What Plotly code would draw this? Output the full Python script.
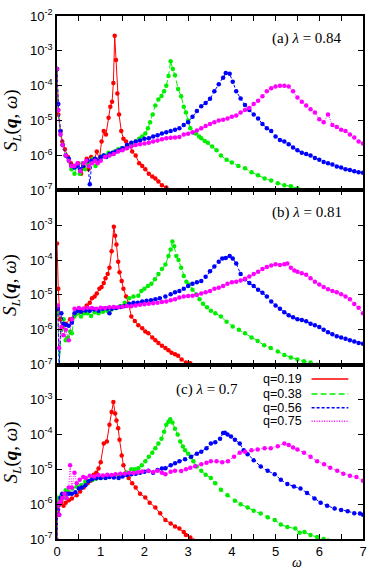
import plotly.graph_objects as go
from plotly.subplots import make_subplots

# ---- panel (a) lambda = 0.84 ----
w_a_019 = [0.0, 0.03, 0.08, 0.12, 0.18, 0.25, 0.32, 0.4, 0.48, 0.55, 0.62, 0.68, 0.72, 0.78, 0.85, 0.91,
           0.97, 1.02, 1.07, 1.12, 1.18, 1.22, 1.26, 1.29, 1.32, 1.35, 1.38, 1.42, 1.47, 1.52, 1.58, 1.65,
           1.72, 1.8, 1.88, 1.95, 2.02, 2.1, 2.18, 2.25, 2.32, 2.4, 2.5, 2.6, 2.7]
s_a_019 = [3e-4, 1.5e-5, 5e-6, 2.5e-6, 1.5e-6, 9e-7, 6e-7, 5e-7, 6e-7, 3e-7, 4.5e-7, 8e-7, 4e-7, 9e-7, 7e-7, 1.3e-6,
           8e-7, 2.5e-6, 5e-6, 4e-6, 1.2e-5, 2.5e-5, 3.5e-5, 1.2e-4, 2.7e-3, 5.5e-4, 6e-5, 1.5e-5, 5e-6, 3e-6, 2.5e-6, 2e-6,
           1.3e-6, 1e-6, 6e-7, 5e-7, 4e-7, 3e-7, 2.5e-7, 2.2e-7, 1.8e-7, 1.4e-7, 1.2e-7, 1e-7, 9e-8]

w_a_038 = [0.0, 0.03, 0.08, 0.13, 0.2, 0.27, 0.33, 0.4, 0.46, 0.52, 0.58, 0.64, 0.7, 0.76, 0.82, 0.88, 0.95,
           1.0, 1.06, 1.12, 1.18, 1.25, 1.32, 1.4, 1.48, 1.57, 1.65, 1.72, 1.8, 1.88, 1.95, 2.02, 2.08, 2.13,
           2.19, 2.25, 2.32, 2.39, 2.45, 2.5, 2.55, 2.6, 2.65, 2.7, 2.77, 2.84, 2.9, 2.95, 3.0, 3.05, 3.12,
           3.18, 3.25, 3.3, 3.38, 3.45, 3.55, 3.65, 3.75, 3.88, 4.0, 4.15, 4.3, 4.45, 4.6, 4.75, 4.9, 5.05,
           5.2, 5.35, 5.5, 5.65, 5.8]
s_a_038 = [3e-4, 2e-5, 4e-6, 2e-6, 1e-6, 7e-7, 4e-7, 3e-7, 5e-7, 3e-7, 6e-7, 4e-7, 6e-7, 6e-7, 8e-7, 5e-7, 7e-7,
           8e-7, 1e-6, 1e-6, 1.2e-6, 1.1e-6, 1.3e-6, 1.5e-6, 1.6e-6, 1.6e-6, 1.9e-6, 2e-6, 2.5e-6, 3e-6, 3.5e-6, 4.3e-6, 6e-6, 9e-6,
           1.5e-5, 2.7e-5, 4e-5, 5.1e-5, 7e-5, 1e-4, 1.9e-4, 5e-4, 3e-4, 2e-4, 8e-5, 5e-5, 2.5e-5, 1.7e-5, 1e-5, 6e-6, 4.5e-6,
           4.3e-6, 3.5e-6, 3.1e-6, 2.6e-6, 2.3e-6, 1.8e-6, 1.4e-6, 1e-6, 7.5e-7, 6.3e-7, 5e-7, 4.3e-7, 3.3e-7, 2.7e-7, 2.2e-7, 1.9e-7, 1.6e-7,
           1.4e-7, 1.3e-7, 1.15e-7, 1e-7, 9e-8]

w_a_056 = [0.0, 0.03, 0.08, 0.13, 0.2, 0.27, 0.33, 0.4, 0.47, 0.53, 0.6, 0.7, 0.75, 0.8, 0.87, 0.93, 1.0,
           1.07, 1.13, 1.2, 1.27, 1.35, 1.42, 1.5, 1.6, 1.7, 1.8, 1.9, 2.0, 2.1, 2.2, 2.3, 2.4, 2.5, 2.6,
           2.7, 2.8, 2.9, 3.0, 3.1, 3.2, 3.3, 3.4, 3.5, 3.6, 3.7, 3.8, 3.86, 3.95, 4.02, 4.1, 4.2, 4.3, 4.4,
           4.5, 4.6, 4.7, 4.8, 4.9, 5.0, 5.1, 5.2, 5.3, 5.4, 5.5, 5.6, 5.7, 5.8, 5.9, 6.0, 6.1, 6.2, 6.3,
           6.4, 6.5, 6.6, 6.7, 6.8, 6.9, 7.0]
s_a_056 = [3e-4, 3e-5, 5e-6, 2e-6, 1e-6, 8e-7, 5e-7, 4.5e-7, 5e-7, 4e-7, 5e-7, 7e-7, 1.5e-7, 7e-7, 8e-7, 7e-7, 9e-7,
           1e-6, 9e-7, 1.1e-6, 1.2e-6, 1.3e-6, 1.4e-6, 1.6e-6, 2e-6, 2.3e-6, 2.5e-6, 2.7e-6, 3e-6, 3.1e-6, 3.5e-6, 3.8e-6, 4.3e-6, 4.6e-6, 5e-6,
           5.5e-6, 6e-6, 7.5e-6, 9e-6, 1.3e-5, 1.9e-5, 2.6e-5, 3.2e-5, 4.2e-5, 7e-5, 1.1e-4, 1.7e-4, 2.3e-4, 2.2e-4, 1.3e-4, 7e-5, 4.3e-5, 2.8e-5, 2e-5,
           1.5e-5, 1.15e-5, 8e-6, 6e-6, 5e-6, 3.5e-6, 2.8e-6, 2.5e-6, 2.1e-6, 1.7e-6, 1.4e-6, 1.2e-6, 1.1e-6, 1e-6, 8.5e-7, 7.5e-7, 6.5e-7, 6e-7, 5.5e-7,
           4.8e-7, 4.5e-7, 4e-7, 3.8e-7, 3.5e-7, 3.3e-7, 3.2e-7]

w_a_075 = [0.0, 0.03, 0.08, 0.13, 0.2, 0.27, 0.33, 0.4, 0.47, 0.53, 0.6, 0.67, 0.73, 0.8, 0.87, 0.93, 1.0,
           1.1, 1.2, 1.3, 1.4, 1.5, 1.6, 1.7, 1.8, 1.9, 2.0, 2.1, 2.2, 2.3, 2.4, 2.5, 2.6, 2.7, 2.8, 2.9,
           3.0, 3.1, 3.2, 3.3, 3.4, 3.5, 3.6, 3.7, 3.8, 3.9, 4.0, 4.1, 4.2, 4.3, 4.4, 4.5, 4.6, 4.7, 4.8,
           4.9, 5.0, 5.1, 5.2, 5.3, 5.4, 5.5, 5.6, 5.7, 5.8, 5.9, 6.0, 6.1, 6.2, 6.3, 6.4, 6.5, 6.6, 6.7,
           6.8, 6.9, 7.0]
s_a_075 = [3e-4, 2e-5, 4e-6, 2e-6, 1e-6, 7e-7, 5e-7, 5e-7, 6e-7, 3.5e-7, 6e-7, 7e-7, 5e-7, 6e-7, 7e-7, 6e-7, 7e-7,
           9e-7, 1e-6, 1.1e-6, 1.3e-6, 1.4e-6, 1.6e-6, 1.8e-6, 2e-6, 2.1e-6, 2.2e-6, 2.3e-6, 2.5e-6, 2.7e-6, 2.9e-6, 3.1e-6, 3.2e-6, 3.3e-6, 3.4e-6, 4e-6,
           4.2e-6, 4.6e-6, 5.2e-6, 6e-6, 7e-6, 8e-6, 9e-6, 1e-5, 1.05e-5, 1.15e-5, 1.3e-5, 1.4e-5, 1.7e-5, 2e-5, 2.3e-5, 3e-5, 3.7e-5, 5e-5, 7e-5,
           8.5e-5, 9.5e-5, 1e-4, 1e-4, 9.5e-5, 7e-5, 4.6e-5, 3.5e-5, 2.7e-5, 2.1e-5, 1.7e-5, 1.1e-5, 9e-6, 1.5e-5, 7.5e-6, 6.5e-6, 5.5e-6, 5e-6, 4e-6,
           3.3e-6, 2.5e-6, 2.2e-6]

# ---- panel (b) lambda = 0.81 ----
w_b_019 = [0.0, 0.03, 0.07, 0.12, 0.2, 0.3, 0.39, 0.47, 0.55, 0.62, 0.68, 0.75, 0.8, 0.86, 0.91, 0.97, 1.02,
           1.07, 1.11, 1.16, 1.2, 1.25, 1.3, 1.33, 1.36, 1.4, 1.43, 1.48, 1.52, 1.58, 1.64, 1.7, 1.78, 1.86,
           1.95, 2.02, 2.09, 2.18, 2.25, 2.32, 2.4, 2.48, 2.55, 2.62, 2.7, 2.77, 2.85, 2.95, 3.05, 3.12]
s_b_019 = [3e-4, 1.5e-5, 2e-6, 1.2e-6, 1.5e-6, 2e-6, 2.4e-6, 3e-6, 3.4e-6, 4e-6, 5e-6, 6e-6, 8e-6, 9e-6, 1.1e-5, 1.5e-5, 1.7e-5,
           2.2e-5, 3e-5, 4e-5, 6e-5, 1.8e-4, 9e-4, 5e-4, 2.8e-4, 9e-5, 4.5e-5, 2.5e-5, 1.5e-5, 9e-6, 5.6e-6, 2.4e-6, 1.8e-6, 1.35e-6,
           1.1e-6, 9e-7, 8e-7, 6e-7, 5e-7, 4.2e-7, 3.5e-7, 3e-7, 2.6e-7, 2.2e-7, 2e-7, 1.8e-7, 1.4e-7, 1.15e-7, 1.1e-7, 9e-8]

w_b_038 = [0.02, 0.05, 0.1, 0.15, 0.2, 0.25, 0.3, 0.34, 0.4, 0.47, 0.55, 0.62, 0.7, 0.78, 0.86, 0.95, 1.05,
           1.15, 1.25, 1.35, 1.45, 1.55, 1.65, 1.75, 1.86, 1.93, 2.0, 2.08, 2.16, 2.24, 2.32, 2.4, 2.48, 2.55,
           2.6, 2.64, 2.68, 2.73, 2.78, 2.84, 2.9, 2.96, 3.02, 3.1, 3.18, 3.26, 3.34, 3.43, 3.52, 3.62, 3.75,
           3.88, 4.02, 4.16, 4.3, 4.45, 4.59, 4.74, 4.89, 5.05, 5.2, 5.35, 5.5, 5.65, 5.8, 5.95, 6.05]
s_b_038 = [3e-6, 9e-8, 1e-6, 2e-6, 5e-7, 6e-7, 9e-7, 8e-7, 2.5e-6, 3e-6, 2.4e-6, 3e-6, 3e-6, 2.5e-6, 3.2e-6, 3e-6, 3.3e-6,
           3.5e-6, 3.8e-6, 4.2e-6, 4.8e-6, 6e-6, 8e-6, 9e-6, 9.5e-6, 1.3e-5, 1.5e-5, 1.8e-5, 2.1e-5, 2.8e-5, 4e-5, 5.5e-5, 7.5e-5, 1.3e-4,
           2e-4, 3.4e-4, 2.5e-4, 1.3e-4, 1e-4, 6e-5, 3.5e-5, 2.4e-5, 2e-5, 1.4e-5, 1.05e-5, 7.5e-6, 5.6e-6, 4.4e-6, 3.5e-6, 3e-6, 2.4e-6,
           1.7e-6, 1.25e-6, 1e-6, 8e-7, 6e-7, 4.8e-7, 3.6e-7, 3e-7, 2.4e-7, 1.9e-7, 1.6e-7, 1.4e-7, 1.25e-7, 1.15e-7, 1e-7, 9e-8]

w_b_056 = [0.02, 0.05, 0.1, 0.15, 0.2, 0.27, 0.34, 0.4, 0.47, 0.55, 0.65, 0.75, 0.85, 0.95, 1.05, 1.15, 1.2,
           1.25, 1.35, 1.45, 1.55, 1.65, 1.75, 1.85, 1.95, 2.05, 2.15, 2.25, 2.35, 2.48, 2.6, 2.7, 2.8, 2.9,
           3.0, 3.1, 3.2, 3.3, 3.4, 3.5, 3.6, 3.7, 3.78, 3.86, 3.95, 4.02, 4.1, 4.2, 4.3, 4.4, 4.5, 4.6,
           4.7, 4.8, 4.9, 5.0, 5.1, 5.2, 5.3, 5.4, 5.5, 5.6, 5.7, 5.8, 5.9, 6.0, 6.1, 6.2, 6.3, 6.4, 6.5,
           6.6, 6.7, 6.8, 6.9, 7.0]
s_b_056 = [4e-6, 9e-8, 3e-6, 1.5e-6, 1.4e-6, 1.3e-6, 1.6e-6, 3e-6, 3.5e-6, 3.3e-6, 3.6e-6, 3.5e-6, 3.8e-6, 3.5e-6, 4e-6, 4.1e-6, 3e-6,
           4e-6, 4.2e-6, 4.5e-6, 4.8e-6, 5.5e-6, 6e-6, 6e-6, 6.5e-6, 6.8e-6, 7e-6, 7.5e-6, 8e-6, 9e-6, 1.05e-5, 1.2e-5, 1.3e-5, 1.5e-5,
           1.8e-5, 2.1e-5, 2.3e-5, 2.5e-5, 3.3e-5, 4.8e-5, 6.5e-5, 9e-5, 1.1e-4, 1.15e-4, 1.3e-4, 1.1e-4, 8e-5, 4e-5, 2.8e-5, 2.2e-5, 1.8e-5, 1.4e-5,
           1.15e-5, 9e-6, 6.5e-6, 5e-6, 4e-6, 3.2e-6, 2.6e-6, 2.3e-6, 2e-6, 1.9e-6, 1.75e-6, 1.5e-6, 1.35e-6, 1.2e-6, 1e-6, 8.5e-7, 7.5e-7, 6.5e-7, 6e-7,
           5.5e-7, 5e-7, 4.6e-7, 4.2e-7, 4e-7]

w_b_075 = [0.02, 0.05, 0.1, 0.15, 0.2, 0.27, 0.34, 0.4, 0.5, 0.6, 0.7, 0.8, 0.9, 1.0, 1.1, 1.2, 1.3,
           1.4, 1.5, 1.6, 1.7, 1.8, 1.9, 2.0, 2.1, 2.2, 2.3, 2.4, 2.5, 2.6, 2.7, 2.8, 2.9, 3.0, 3.1, 3.2,
           3.3, 3.4, 3.5, 3.6, 3.7, 3.8, 3.9, 4.0, 4.1, 4.2, 4.3, 4.4, 4.5, 4.6, 4.7, 4.8, 4.9, 5.0, 5.1,
           5.2, 5.27, 5.35, 5.43, 5.5, 5.6, 5.7, 5.8, 5.9, 6.0, 6.1, 6.2, 6.3, 6.4, 6.5, 6.6, 6.7, 6.8, 6.9,
           7.0]
s_b_075 = [5e-6, 3e-7, 1.2e-6, 7e-7, 1e-6, 5e-7, 2e-6, 4e-6, 4.2e-6, 4e-6, 4.3e-6, 4.2e-6, 4e-6, 4.3e-6, 4.2e-6, 4.4e-6, 4.5e-6,
           4.4e-6, 4.6e-6, 4.8e-6, 4.7e-6, 5e-6, 5.2e-6, 5.4e-6, 5.6e-6, 5.8e-6, 6e-6, 6.3e-6, 6.5e-6, 7e-6, 7.5e-6, 8.5e-6, 9e-6, 9.3e-6, 9.5e-6, 1e-5,
           1.1e-5, 1.2e-5, 1.3e-5, 1.5e-5, 1.6e-5, 1.8e-5, 2.1e-5, 2.3e-5, 2.4e-5, 2.6e-5, 2.9e-5, 3.4e-5, 4e-5, 4.6e-5, 5.5e-5, 6.3e-5, 7e-5, 7.6e-5, 7.2e-5,
           7.6e-5, 8e-5, 6e-5, 5e-5, 4.6e-5, 4.2e-5, 3.8e-5, 3e-5, 2.4e-5, 2e-5, 1.7e-5, 1.45e-5, 1.3e-5, 1.2e-5, 1.05e-5, 9e-6, 7.5e-6, 5.5e-6, 4.3e-6,
           3e-6]

# ---- panel (c) lambda = 0.7 ----
w_c_019 = [0.0, 0.01, 0.03, 0.06, 0.1, 0.15, 0.2, 0.27, 0.34, 0.45, 0.53, 0.61, 0.7, 0.77, 0.84, 0.9, 0.95,
           1.0, 1.07, 1.14, 1.2, 1.25, 1.29, 1.33, 1.36, 1.4, 1.43, 1.48, 1.52, 1.58, 1.64, 1.72, 1.8, 1.9,
           2.02, 2.12, 2.25, 2.36, 2.48, 2.6, 2.7, 2.8, 2.9, 2.95, 3.05, 3.12]
s_c_019 = [9e-8, 1.5e-6, 5e-7, 1e-6, 1.2e-6, 9e-7, 1.1e-6, 1.3e-6, 1.45e-6, 1.8e-6, 2.3e-6, 3e-6, 4e-6, 4.7e-6, 7e-6, 8e-6, 1.05e-5,
           1.6e-5, 5.5e-5, 6.3e-5, 1.9e-4, 4.4e-4, 8.5e-4, 4e-4, 2.5e-4, 1.5e-4, 7e-5, 2.5e-5, 1.3e-5, 8e-6, 5.6e-6, 4e-6, 3e-6, 2e-6,
           1.55e-6, 1.1e-6, 8e-7, 5.5e-7, 3.5e-7, 2.8e-7, 2.3e-7, 2e-7, 1.6e-7, 1.3e-7, 1.1e-7, 9e-8]

w_c_038 = [0.0, 0.02, 0.05, 0.1, 0.15, 0.2, 0.27, 0.35, 0.45, 0.55, 0.65, 0.73, 0.82, 0.9, 1.0, 1.1, 1.2,
           1.3, 1.4, 1.5, 1.6, 1.7, 1.78, 1.86, 1.94, 2.02, 2.1, 2.18, 2.25, 2.32, 2.39, 2.45, 2.5, 2.55,
           2.59, 2.64, 2.7, 2.76, 2.82, 2.88, 2.93, 3.0, 3.06, 3.12, 3.2, 3.3, 3.4, 3.52, 3.62, 3.75, 3.9,
           4.07, 4.2, 4.36, 4.5, 4.66, 4.82, 4.98, 5.12, 5.27, 5.45, 5.55, 5.66, 5.8, 5.95, 6.1, 6.2]
s_c_038 = [9e-8, 1.5e-6, 1.2e-6, 1.8e-6, 1.5e-6, 2.5e-6, 2.2e-6, 2.8e-6, 3.2e-6, 3.5e-6, 4.5e-6, 4.7e-6, 5e-6, 5.4e-6, 5.6e-6, 6e-6, 6.3e-6,
           6.5e-6, 6.8e-6, 7e-6, 8e-6, 1e-5, 1e-5, 1.07e-5, 1.3e-5, 1.7e-5, 2.3e-5, 3e-5, 4e-5, 5.5e-5, 7.5e-5, 1.2e-4, 1.9e-4, 2.3e-4,
           2.7e-4, 2.2e-4, 1.45e-4, 1e-4, 6.3e-5, 4.5e-5, 3.5e-5, 2.8e-5, 2.2e-5, 1.7e-5, 1.2e-5, 9e-6, 7e-6, 5.6e-6, 4e-6, 2.6e-6, 1.8e-6,
           1.26e-6, 1e-6, 8e-7, 6.5e-7, 5.4e-7, 4.2e-7, 3.5e-7, 2.6e-7, 2.2e-7, 2e-7, 1.5e-7, 1.6e-7, 1.3e-7, 1.15e-7, 1e-7, 9e-8]

w_c_056 = [0.0, 0.02, 0.05, 0.08, 0.12, 0.2, 0.27, 0.34, 0.42, 0.5, 0.57, 0.65, 0.72, 0.8, 0.9, 1.0, 1.11,
           1.2, 1.3, 1.41, 1.5, 1.6, 1.7, 1.8, 1.9, 2.0, 2.09, 2.2, 2.3, 2.4, 2.48, 2.6, 2.7, 2.8, 2.93,
           3.07, 3.2, 3.3, 3.42, 3.52, 3.62, 3.73, 3.8, 3.84, 3.9, 3.98, 4.07, 4.18, 4.27, 4.36, 4.5, 4.66,
           4.82, 4.98, 5.12, 5.27, 5.42, 5.57, 5.72, 5.89, 6.03, 6.18, 6.35, 6.5, 6.65, 6.8, 6.93, 7.0]
s_c_056 = [9e-8, 1e-6, 5e-7, 1.5e-6, 2e-6, 2e-6, 2e-6, 2e-6, 2.2e-6, 2.8e-6, 3e-6, 3.5e-6, 4.5e-6, 5.2e-6, 5.5e-6, 5.6e-6, 5.6e-6,
           6e-6, 5.8e-6, 5.6e-6, 6.2e-6, 6.8e-6, 7.2e-6, 7.5e-6, 8e-6, 8.5e-6, 9e-6, 8e-6, 9.5e-6, 1.05e-5, 1.07e-5, 1.3e-5, 1.5e-5, 1.7e-5, 1.95e-5,
           2.3e-5, 2.8e-5, 3.2e-5, 4e-5, 5.5e-5, 6e-5, 7.5e-5, 1.1e-4, 1.12e-4, 1e-4, 8.7e-5, 7e-5, 5.5e-5, 3.5e-5, 2.7e-5, 1.8e-5, 1.2e-5,
           9e-6, 7.2e-6, 5e-6, 3.8e-6, 3.2e-6, 2.8e-6, 2.1e-6, 1.45e-6, 1.1e-6, 9e-7, 7.5e-7, 6.8e-7, 6.3e-7, 5.5e-7, 5.4e-7, 5e-7]

w_c_075 = [0.0, 0.02, 0.05, 0.08, 0.12, 0.17, 0.22, 0.27, 0.3, 0.34, 0.4, 0.45, 0.52, 0.6, 0.66, 0.75, 0.85,
           0.95, 1.05, 1.15, 1.25, 1.34, 1.45, 1.55, 1.65, 1.75, 1.85, 1.95, 2.09, 2.2, 2.3, 2.4, 2.48, 2.6,
           2.7, 2.84, 2.95, 3.05, 3.16, 3.3, 3.42, 3.52, 3.65, 3.78, 3.91, 4.05, 4.18, 4.3, 4.45, 4.59, 4.75,
           4.89, 5.05, 5.2, 5.3, 5.4, 5.5, 5.65, 5.8, 5.95, 6.11, 6.25, 6.41, 6.55, 6.7, 6.85, 7.0]
s_c_075 = [9e-8, 1e-6, 5e-7, 1.2e-6, 1.5e-6, 2e-6, 1.5e-6, 3e-6, 1.3e-5, 3e-6, 8e-6, 4e-6, 5e-6, 6e-6, 5.6e-6, 6.5e-6, 6.2e-6,
           6.8e-6, 6.6e-6, 7e-6, 6.8e-6, 7.2e-6, 7.4e-6, 7.5e-6, 8e-6, 7.8e-6, 8.2e-6, 8.6e-6, 8.9e-6, 8.4e-6, 9e-6, 8e-6, 7.2e-6, 8.5e-6,
           9e-6, 8.9e-6, 1e-5, 1.1e-5, 1.23e-5, 1.4e-5, 1.55e-5, 1.7e-5, 1.7e-5, 1.6e-5, 1.7e-5, 2.3e-5, 3e-5, 3.2e-5, 3.5e-5, 3.7e-5, 4e-5,
           4e-5, 4.6e-5, 5.5e-5, 5e-5, 4.2e-5, 3.7e-5, 3e-5, 2.3e-5, 1.7e-5, 1.4e-5, 1.1e-5, 9e-6, 7.5e-6, 6.5e-6, 6e-6, 4.7e-6]

q_names = ["q=0.19", "q=0.38", "q=0.56", "q=0.75"]
panel_labels = ["(a) <i>λ</i> = 0.84", "(b) <i>λ</i> = 0.81", "(c) <i>λ</i> = 0.7"]
y_tick_vals = [1e-7, 1e-6, 1e-5, 1e-4, 1e-3, 1e-2]
y_tick_text = ["10<sup>-7</sup>", "10<sup>-6</sup>", "10<sup>-5</sup>", "10<sup>-4</sup>", "10<sup>-3</sup>", "10<sup>-2</sup>"]
x_tick_vals = [0, 0.5, 1, 1.5, 2, 2.5, 3, 3.5, 4, 4.5, 5, 5.5, 6, 6.5, 7]
x_tick_text = ["0", "", "1", "", "2", "", "3", "", "4", "", "5", "", "6", "", "7"]

colors = ["#ff0000", "#00ee00", "#0000ff", "#ff00ff"]
dashes = ["solid", "6px,3px", "3px,2px", "1px,1.5px"]

panels = [
    [(w_a_019, s_a_019), (w_a_038, s_a_038), (w_a_056, s_a_056), (w_a_075, s_a_075)],
    [(w_b_019, s_b_019), (w_b_038, s_b_038), (w_b_056, s_b_056), (w_b_075, s_b_075)],
    [(w_c_019, s_c_019), (w_c_038, s_c_038), (w_c_056, s_c_056), (w_c_075, s_c_075)],
]

fig = make_subplots(rows=3, cols=1, shared_xaxes=True, vertical_spacing=0)

for row, series in enumerate(panels, start=1):
    for k, (w, s) in enumerate(series):
        fig.add_trace(
            go.Scatter(
                x=w, y=s, mode="lines+markers", name=q_names[k], showlegend=False,
                line=dict(color=colors[k], width=1, dash=dashes[k]),
                marker=dict(color=colors[k], size=4.5),
            ),
            row=row, col=1,
        )

axis_style = dict(
    showline=True, linecolor="black", linewidth=1.5, mirror="ticks",
    ticks="inside", ticklen=5, tickwidth=1, tickcolor="black",
    showgrid=False, zeroline=False,
    tickfont=dict(family="Liberation Sans", size=13, color="black"),
)

for row in (1, 2, 3):
    vals = y_tick_vals if row == 1 else y_tick_vals[:-1]
    text = y_tick_text if row == 1 else y_tick_text[:-1]
    fig.update_yaxes(type="log", range=[-7, -2], tickvals=vals, ticktext=text, row=row, col=1, **axis_style)
    fig.update_xaxes(range=[0, 7], tickvals=x_tick_vals, ticktext=x_tick_text,
                     showticklabels=(row == 3), row=row, col=1, **axis_style)

# panel annotations and y titles
panel_y = [0.9566, 0.6245, 0.2868]
panel_x = [0.9387, 0.9387, 0.5968]
title_y = [0.80, 0.485, 0.165]
for i in range(3):
    fig.add_annotation(
        text=panel_labels[i], xref="paper", yref="paper", x=panel_x[i], y=panel_y[i],
        xanchor="right", yanchor="middle", showarrow=False,
        font=dict(family="Liberation Serif", size=15, color="black"),
    )
    fig.add_annotation(
        text="<i>S</i><sub><i>L</i></sub>(<b><i>q</i></b>, <i>ω</i>)", xref="paper", yref="paper",
        x=-0.148, y=title_y[i], xanchor="center", yanchor="middle", textangle=-90, showarrow=False,
        font=dict(family="Liberation Serif", size=19, color="black"),
    )

fig.add_annotation(
    text="<i>ω</i>", xref="paper", yref="paper", x=0.784, y=-0.045,
    xanchor="center", yanchor="middle", showarrow=False,
    font=dict(family="Liberation Serif", size=14, color="black"),
)

# legend, gnuplot style: label on the left, line sample on the right
legend_y = [0.3057, 0.2774, 0.2510, 0.2250]
for k in range(4):
    fig.add_annotation(
        text=q_names[k], xref="paper", yref="paper", x=0.805, y=legend_y[k],
        xanchor="right", yanchor="middle", showarrow=False, borderpad=0,
        font=dict(family="Liberation Sans", size=12.5, color="black"),
    )
    fig.add_shape(
        type="line", xref="paper", yref="paper", x0=0.832, x1=0.952, y0=legend_y[k], y1=legend_y[k],
        line=dict(color=colors[k], width=1.5, dash=dashes[k]),
    )

fig.update_layout(
    width=374, height=571,
    margin=dict(l=57, r=7, t=9, b=32),
    paper_bgcolor="white", plot_bgcolor="white",
    showlegend=False,
)

fig.write_html("out.html", config={"displayModeBar": False},
               post_script="document.body.style.margin = '0';")
